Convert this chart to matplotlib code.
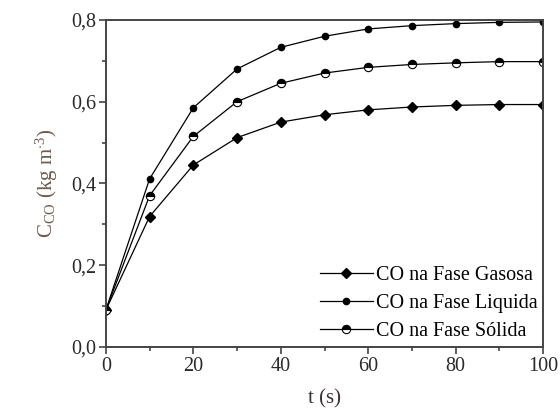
import numpy as np
import matplotlib.pyplot as plt
from matplotlib.ticker import MultipleLocator, FuncFormatter

plt.rcParams['font.family'] = ['Liberation Serif', 'DejaVu Serif']
plt.rcParams['mathtext.fontset'] = 'custom'
plt.rcParams['mathtext.rm'] = 'Liberation Serif'
plt.rcParams['mathtext.it'] = 'Liberation Serif'

# data
t = [0, 10, 20, 30, 40, 50, 60, 70, 80, 90, 100]
co_gas = [0.09, 0.319, 0.445, 0.512, 0.550, 0.568, 0.580, 0.587, 0.591, 0.593, 0.593]
co_liq = [0.09, 0.411, 0.585, 0.680, 0.733, 0.760, 0.778, 0.786, 0.791, 0.794, 0.795]
co_sol = [0.09, 0.370, 0.515, 0.600, 0.645, 0.670, 0.684, 0.691, 0.695, 0.698, 0.698]
labels = ['CO na Fase Gasosa', 'CO na Fase Liquida', 'CO na Fase Sólida']

fig = plt.figure(figsize=(5.6, 4.15), dpi=100)
ax = fig.add_axes([0.189, 0.164, 0.781, 0.788])

ax.plot(t, co_gas, color='black', lw=0.9, marker='D', ms=5.5, label=labels[0])
ax.plot(t, co_liq, color='black', lw=0.9, marker='o', ms=4.5, label=labels[1])
ax.plot(t, co_sol, color='black', lw=0.9, marker='o', ms=6, fillstyle='top',
        markerfacecoloralt='white', markeredgewidth=0.8, label=labels[2])

ax.set_xlim(0, 100)
ax.set_ylim(0, 0.8)
ax.xaxis.set_major_locator(MultipleLocator(20))
ax.xaxis.set_minor_locator(MultipleLocator(10))
ax.yaxis.set_major_locator(MultipleLocator(0.2))
ax.yaxis.set_minor_locator(MultipleLocator(0.1))
ax.yaxis.set_major_formatter(FuncFormatter(lambda v, p: f"{v:.1f}".replace('.', ',')))

for s in ax.spines.values():
    s.set_linewidth(1.4)
    s.set_color('#444444')
ax.tick_params(which='both', direction='out', top=False, right=False,
               color='#444444', width=1.2, labelsize=14.5, labelcolor='#2a2a2a')
ax.tick_params(which='major', length=5, pad=2)
ax.tick_params(which='minor', length=3)

ax.set_xlabel('t (s)', fontsize=15, color='#3a3030', labelpad=10)
ax.set_ylabel(r'C$_{\mathrm{CO}}$ (kg m$^{\cdot3}$)', fontsize=15, color='#6e5a4e', labelpad=8)

ax.legend(loc='lower right', frameon=False, fontsize=14.5, handlelength=2.6,
          handletextpad=0.15, labelspacing=0.45, borderaxespad=0.1, borderpad=0.2)

fig.savefig('out.png', dpi=100)
